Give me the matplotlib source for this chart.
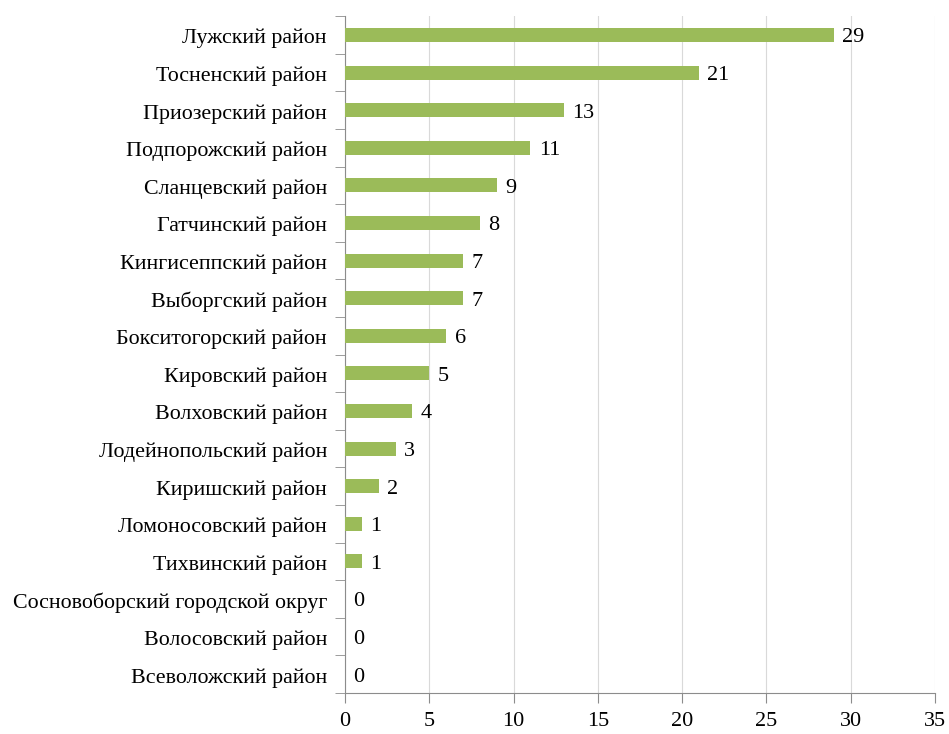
import matplotlib.pyplot as plt
import numpy as np

# Districts (top to bottom) and values
districts = ['Лужский район', 'Тосненский район', 'Приозерский район',
             'Подпорожский район', 'Сланцевский район', 'Гатчинский район',
             'Кингисеппский район', 'Выборгский район', 'Бокситогорский район',
             'Кировский район', 'Волховский район', 'Лодейнопольский район',
             'Киришский район', 'Ломоносовский район', 'Тихвинский район',
             'Сосновоборский городской округ', 'Волосовский район',
             'Всеволожский район']
values = [29, 21, 13, 11, 9, 8, 7, 7, 6, 5, 4, 3, 2, 1, 1, 0, 0, 0]
x_ticks = [0, 5, 10, 15, 20, 25, 30, 35]

plt.rcParams['font.family'] = ['Liberation Serif', 'DejaVu Serif']

fig = plt.figure(figsize=(9.49, 7.34), dpi=100)
ax = fig.add_axes([0.3635, 0.0559, 0.6217, 0.9221])

n = len(districts)
ypos = np.arange(n)[::-1]
ax.barh(ypos, values, height=0.37, color='#9BBB59', zorder=3)

# value labels to the right of each bar
for y, v in zip(ypos, values):
    ax.text(v + 0.5, y - 0.08, str(v), va='center', ha='left', fontsize=16)

ax.set_ylim(-0.5, n - 0.5)
ax.set_xlim(0, 35)
ax.set_xticks(x_ticks)
ax.set_yticks(ypos - 0.03)
ax.set_yticklabels(districts, fontsize=15.8)
ax.set_yticks(np.arange(n + 1) - 0.5, minor=True)
ax.tick_params(axis='y', which='major', length=0, pad=13)
ax.tick_params(axis='y', which='minor', length=7, color='#8c8c8c', direction='out')
ax.tick_params(axis='x', labelsize=16, length=7, color='#8c8c8c', pad=7)

ax.grid(axis='x', color='#d9d9d9', linewidth=0.8, zorder=0)
for side in ['top', 'right']:
    ax.spines[side].set_visible(False)
for side in ['left', 'bottom']:
    ax.spines[side].set_color('#8c8c8c')

plt.savefig('out.png', dpi=100)
